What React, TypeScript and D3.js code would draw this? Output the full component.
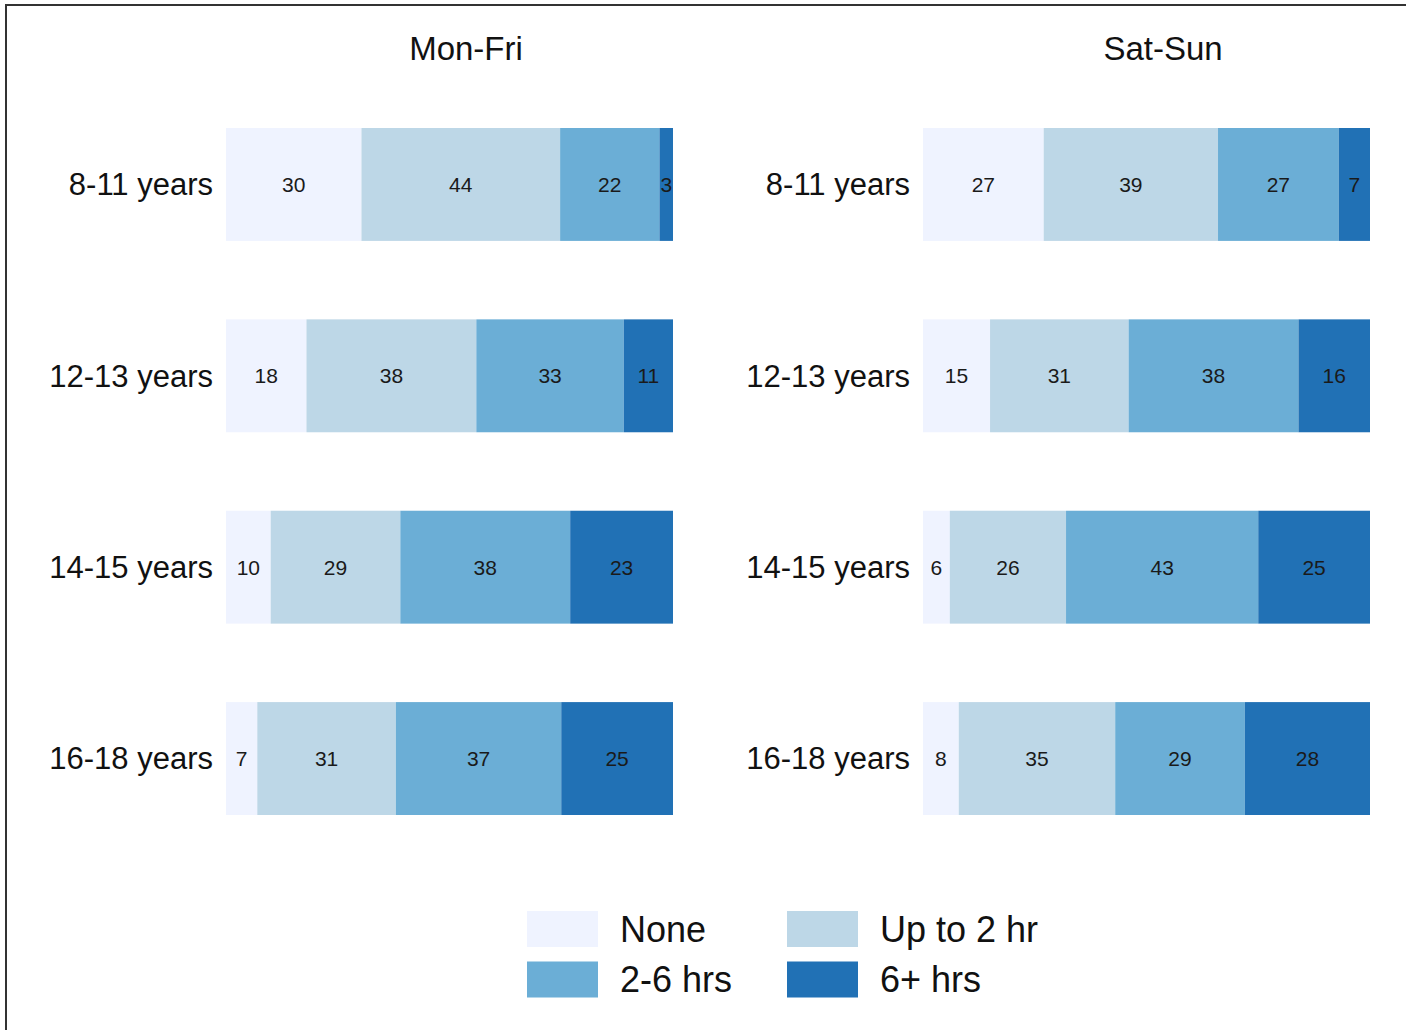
import React from 'react';
import * as d3 from 'd3';

// Age groups (rows), time categories (stack order) and the two panels
const ageGroups = ['8-11 years', '12-13 years', '14-15 years', '16-18 years'];
const categories = ['None', 'Up to 2 hr', '2-6 hrs', '6+ hrs'];
const colors = ['#eff3ff', '#bdd7e7', '#6baed6', '#2171b5'];
const panelTitles = ['Mon-Fri', 'Sat-Sun'];

// Percentages per age group, in category order
const monFri = [
  [30, 44, 22, 3],
  [18, 38, 33, 11],
  [10, 29, 38, 23],
  [7, 31, 37, 25],
];
const satSun = [
  [27, 39, 27, 7],
  [15, 31, 38, 16],
  [6, 26, 43, 25],
  [8, 35, 29, 28],
];

const W = 1406;
const H = 1030;
const FONT = '"Liberation Sans", Arial, Helvetica, sans-serif';

const panels = [
  { title: panelTitles[0], data: monFri, x0: 226, x1: 673, titleX: 466 },
  { title: panelTitles[1], data: satSun, x0: 923, x1: 1370, titleX: 1163 },
];

const y = d3.scaleBand<string>().domain(ageGroups).range([128, 815]).paddingInner(0.41).paddingOuter(0);

function Panel({ title, data, x0, x1, titleX }: { title: string; data: number[][]; x0: number; x1: number; titleX: number }) {
  return (
    <g>
      <text x={titleX} y={60} textAnchor="middle" fontSize={33} fill="#111">
        {title}
      </text>
      {ageGroups.map((age, i) => {
        const row = data[i];
        const total = d3.sum(row);
        const x = d3.scaleLinear().domain([0, total]).range([x0, x1]);
        const stack = d3.cumsum(row);
        const by = y(age)!;
        const bh = y.bandwidth();
        const cy = by + bh / 2;
        return (
          <g key={age}>
            <text x={x0 - 13} y={cy} dy="0.35em" textAnchor="end" fontSize={31} fill="#111">
              {age}
            </text>
            {row.map((v, j) => {
              const a = x(stack[j] - v);
              const b = x(stack[j]);
              return (
                <g key={categories[j]}>
                  <rect x={a} y={by} width={b - a} height={bh} fill={colors[j]} />
                  <text x={(a + b) / 2} y={cy} dy="0.35em" textAnchor="middle" fontSize={21} fill="#1a1a1a">
                    {v}
                  </text>
                </g>
              );
            })}
          </g>
        );
      })}
    </g>
  );
}

function Legend() {
  const cols = [527, 787];
  const rows = [911, 961.5];
  const boxW = 71;
  const boxH = 36;
  return (
    <g>
      {categories.map((c, i) => {
        const cx = cols[i % 2];
        const cy = rows[Math.floor(i / 2)];
        return (
          <g key={c}>
            <rect x={cx} y={cy} width={boxW} height={boxH} fill={colors[i]} />
            <text x={cx + boxW + 22} y={cy + boxH / 2} dy="0.36em" fontSize={36} fill="#111">
              {c}
            </text>
          </g>
        );
      })}
    </g>
  );
}

export default function App() {
  return (
    <svg
      width={W}
      height={H}
      style={{ position: 'absolute', left: 0, top: 0, background: '#fff' }}
      fontFamily={FONT}
    >
      <rect x={0} y={0} width={W} height={H} fill="#fff" />
      <rect x={6} y={5} width={W + 40} height={H + 40} fill="none" stroke="#333" strokeWidth={2} />
      {panels.map((p) => (
        <Panel key={p.title} {...p} />
      ))}
      <Legend />
    </svg>
  );
}
